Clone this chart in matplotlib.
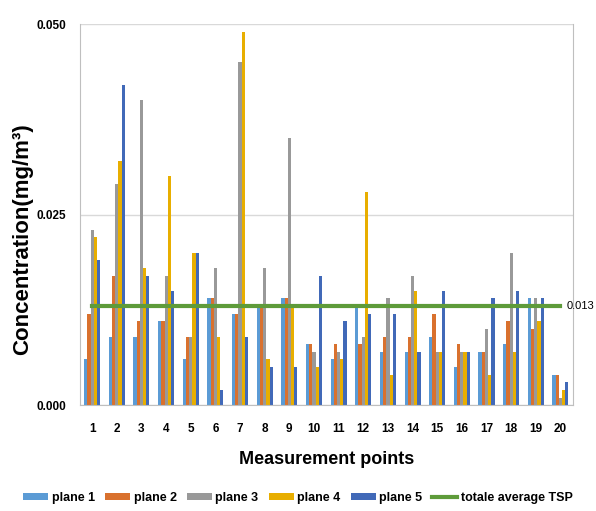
import matplotlib.pyplot as plt
import numpy as np

# Datos
points = list(range(1, 21))
plane1 = [0.006, 0.009, 0.009, 0.011, 0.006, 0.014, 0.012, 0.013, 0.014, 0.008,
          0.006, 0.013, 0.007, 0.007, 0.009, 0.005, 0.007, 0.008, 0.014, 0.004]
plane2 = [0.012, 0.017, 0.011, 0.011, 0.009, 0.014, 0.012, 0.013, 0.014, 0.008,
          0.008, 0.008, 0.009, 0.009, 0.012, 0.008, 0.007, 0.011, 0.010, 0.004]
plane3 = [0.023, 0.029, 0.040, 0.017, 0.009, 0.018, 0.045, 0.018, 0.035, 0.007,
          0.007, 0.009, 0.014, 0.017, 0.007, 0.007, 0.010, 0.020, 0.014, 0.001]
plane4 = [0.022, 0.032, 0.018, 0.030, 0.020, 0.009, 0.049, 0.006, 0.013, 0.005,
          0.006, 0.028, 0.004, 0.015, 0.007, 0.007, 0.004, 0.007, 0.011, 0.002]
plane5 = [0.019, 0.042, 0.017, 0.015, 0.020, 0.002, 0.009, 0.005, 0.005, 0.017,
          0.011, 0.012, 0.012, 0.007, 0.015, 0.007, 0.014, 0.015, 0.014, 0.003]
avg_tsp = [0.013] * 20

series = [plane1, plane2, plane3, plane4, plane5]
names = ['plane 1', 'plane 2', 'plane 3', 'plane 4', 'plane 5']
colors = ['#5B9BD5', '#D9712E', '#999999', '#E8AE00', '#4169B8']

fam = ['Liberation Sans', 'DejaVu Sans']

fig = plt.figure(figsize=(5.96, 5.11), dpi=100)
ax = fig.add_axes([0.134, 0.207, 0.827, 0.746])

x = np.array(points)
w = 0.13
handles = []
for k, (vals, name, col) in enumerate(zip(series, names, colors)):
    b = ax.bar(x + (k - 2) * w, vals, width=w, color=col, label=name, zorder=2)
    handles.append(b)

line, = ax.plot(x, avg_tsp, color='#5E9B3A', linewidth=3, label='totale average TSP', zorder=3)
handles.append(line)
ax.text(20.25, avg_tsp[-1], '0.013', fontsize=8, va='center', ha='left',
        family=fam, clip_on=False)

ax.set_xlim(0.5, 20.5)
ax.set_ylim(0, 0.050)
ax.set_yticks([0.0, 0.025, 0.050])
ax.set_yticklabels(['0.000', '0.025', '0.050'], fontsize=8.5, fontweight='bold', family=fam)
ax.set_xticks(x)
ax.set_xticklabels([str(p) for p in points], fontsize=8.5, fontweight='bold', family=fam)
ax.tick_params(axis='y', length=0, pad=10)
ax.tick_params(axis='x', length=0, pad=13)
ax.grid(axis='y', color='#D9D9D9', linewidth=1, zorder=0)

for s in ['left', 'right', 'bottom', 'top']:
    ax.spines[s].set_color('#BFBFBF')
ax.spines['top'].set_visible(False)

ax.set_xlabel('Measurement points', fontsize=13, fontweight='bold', family=fam)
ax.xaxis.set_label_coords(0.5, -0.12)
ax.set_ylabel('Concentration(mg/m³)', fontsize=16, fontweight='bold', family=fam)
ax.yaxis.set_label_coords(-0.094, 0.436)

fig.legend(handles=handles, labels=names + ['totale average TSP'],
           loc='lower center', bbox_to_anchor=(0.5, -0.008), ncol=6, frameon=False,
           prop={'family': fam, 'weight': 'bold', 'size': 9},
           handlelength=2.0, handleheight=0.5, handletextpad=0.3, columnspacing=0.8)

plt.savefig('out.png', dpi=100)
